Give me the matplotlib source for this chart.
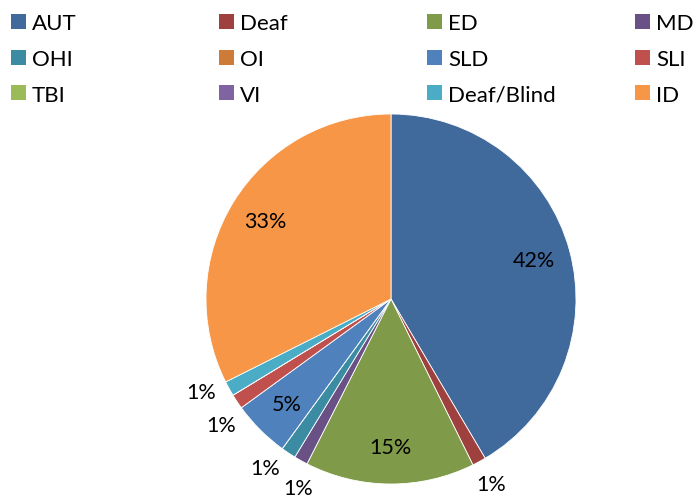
import matplotlib
matplotlib.use("Agg")
from matplotlib import pyplot as plt
from matplotlib.patches import Rectangle
import numpy as np

plt.rcParams['font.family'] = ['Lato', 'DejaVu Sans']

categories = ["AUT", "Deaf", "ED", "MD", "OHI", "OI",
              "SLD", "SLI", "TBI", "VI", "Deaf/Blind", "ID"]
values = [41.5, 1.2, 14.8, 1.2, 1.3, 0.0,
          5.0, 1.3, 0.0, 0.0, 1.3, 32.4]
pct_labels = ["42%", "1%", "15%", "1%", "1%", "",
              "5%", "1%", "", "", "1%", "33%"]
colors = ["#40699C", "#9E413E", "#7F9A48", "#695185", "#3B8CA3", "#CC7B38",
          "#4F81BD", "#C0504D", "#9BBB59", "#8064A2", "#4BACC6", "#F79646"]

W, H = 698, 502
fig = plt.figure(figsize=(W / 100, H / 100), dpi=100)
# pie centre ~ (391, 300) px, radius ~185 px
ax = fig.add_axes([206/W, 17/H, 370/W, 370/H])

wedges, _ = ax.pie(values, colors=colors, startangle=90, counterclock=False,
                   radius=1.0, wedgeprops=dict(edgecolor="white", linewidth=0.6))
ax.set_xlim(-1, 1)
ax.set_ylim(-1, 1)
ax.set_aspect("equal")

# data labels: big slices inside, small ones outside (spread apart a bit)
outside = []
for w, v, txt in zip(wedges, values, pct_labels):
    if not txt:
        continue
    mid = (w.theta1 + w.theta2) / 2
    if v < 3:
        outside.append([mid, txt])
    else:
        a = np.deg2rad(mid)
        ax.text(0.8 * np.cos(a), 0.8 * np.sin(a), txt, ha="center", va="center",
                fontsize=15.5, color="black")
min_gap = 10.5
for i in range(1, len(outside)):
    gap = outside[i - 1][0] - outside[i][0]
    if abs(gap) < min_gap:
        push = (min_gap - abs(gap)) / 2
        outside[i - 1][0] += push
        outside[i][0] -= push
for mid, txt in outside:
    a = np.deg2rad(mid)
    ax.text(1.14 * np.cos(a), 1.14 * np.sin(a), txt, ha="center", va="center",
            fontsize=15.5, color="black")

# legend, 4 columns filled row by row
for i, (cat, c) in enumerate(zip(categories, colors)):
    col, row = i % 4, i // 4
    x0 = 11 + 208 * col
    yc = 22.5 + 35.5 * row
    fig.patches.append(Rectangle(((x0) / W, 1 - (yc + 7.5) / H), 15 / W, 15 / H,
                                 transform=fig.transFigure, facecolor=c,
                                 edgecolor="none"))
    fig.text((x0 + 21) / W, 1 - yc / H, cat, ha="left", va="center_baseline",
             fontsize=16, color="black")

fig.savefig("out.png", dpi=100)
